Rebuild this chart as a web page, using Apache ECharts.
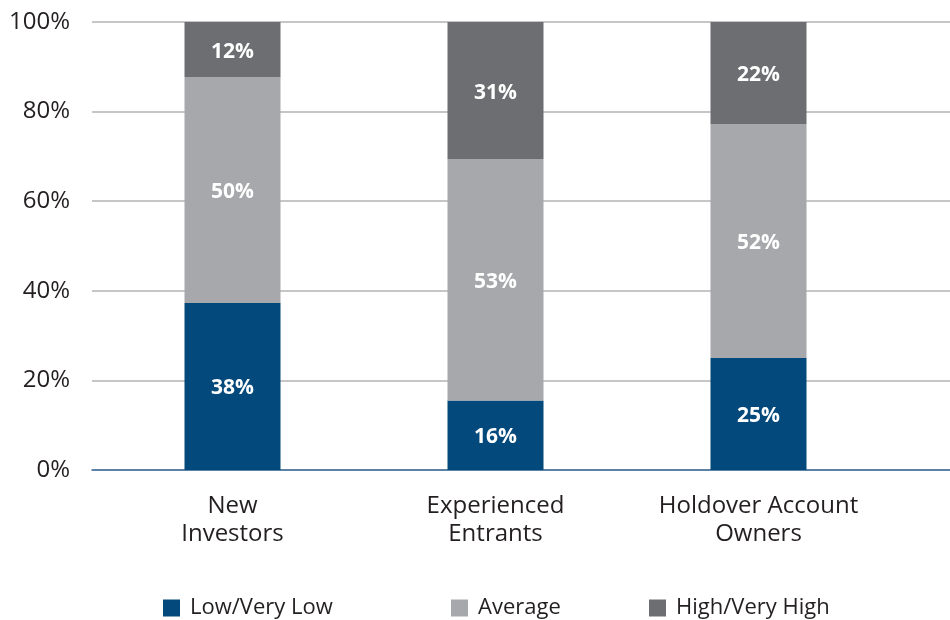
<!DOCTYPE html>
<html>
<head>
<meta charset="utf-8">
<script src="https://cdn.jsdelivr.net/npm/echarts@6/dist/echarts.min.js"></script>
<style>
  html, body { margin: 0; padding: 0; background: #fff; }
  #main { width: 950px; height: 620px; }
</style>
</head>
<body>
<div id="main"></div>
<script>
// categories and values (percent of group)
var categories = ["New\nInvestors", "Experienced\nEntrants", "Holdover Account\nOwners"];
var seriesNames = ["Low/Very Low", "Average", "High/Very High"];
var lowValues = [37.3, 15.5, 25.0];
var avgValues = [50.4, 53.9, 52.2];
var highValues = [12.3, 30.6, 22.8];
// printed labels on the segments
var lowLabels = ["38%", "16%", "25%"];
var avgLabels = ["50%", "53%", "52%"];
var highLabels = ["12%", "31%", "22%"];
var yTicks = [0, 20, 40, 60, 80, 100];

var colors = ["#03497b", "#a7a8ab", "#6d6e71"];
var font = "'Open Sans', 'Noto Sans', sans-serif";

var myChart = echarts.init(document.getElementById("main"));

function makeSeries(i, values, labels) {
  return {
    name: seriesNames[i],
    type: "bar",
    stack: "total",
    xAxisIndex: 1,
    yAxisIndex: 1,
    barWidth: 96,
    itemStyle: { color: colors[i] },
    label: {
      show: true,
      position: "inside",
      offset: [0, 2],
      color: "#fff",
      fontFamily: font,
      fontWeight: "bold",
      fontSize: 21,
      formatter: function (p) { return labels[p.dataIndex]; }
    },
    data: values
  };
}

function legendAt(left, i) {
  return {
    left: left,
    top: 592,
    itemWidth: 17,
    itemHeight: 17,
    itemGap: 11,
    icon: "rect",
    data: [seriesNames[i]],
    textStyle: { fontFamily: font, fontSize: 22, color: "#231f20", padding: [0, 0, 0, 5] }
  };
}

myChart.setOption({
  animation: false,
  legend: [legendAt(158, 0), legendAt(446, 1), legendAt(644, 2)],
  grid: [
    { left: 92, right: 0, top: 22, bottom: 150 },
    { left: 101, right: 60, top: 22, bottom: 150 }
  ],
  xAxis: [
    {
      gridIndex: 0,
      type: "value",
      min: 0,
      max: 1,
      axisLine: { show: true, lineStyle: { color: "#3a6c9a", width: 1.5 } },
      axisTick: { show: false },
      axisLabel: { show: false },
      splitLine: { show: false }
    },
    {
      gridIndex: 1,
      type: "category",
      data: categories,
      axisLine: { show: false },
      axisTick: { show: false },
      axisLabel: {
        margin: 22,
        fontFamily: font,
        fontSize: 24,
        lineHeight: 28,
        color: "#231f20"
      }
    }
  ],
  yAxis: [
    {
      gridIndex: 0,
      type: "value",
      min: 0,
      max: 100,
      interval: 20,
      axisLine: { show: false },
      axisTick: { show: false },
      axisLabel: {
        margin: 22,
        fontFamily: font,
        fontSize: 24,
        color: "#231f20",
        formatter: function (v) { return yTicks.indexOf(v) >= 0 ? v + "%" : ""; }
      },
      splitLine: { lineStyle: { color: "#b3b3b3", width: 1.5 } }
    },
    {
      gridIndex: 1,
      type: "value",
      min: 0,
      max: 100,
      show: false
    }
  ],
  series: [
    makeSeries(0, lowValues, lowLabels),
    makeSeries(1, avgValues, avgLabels),
    makeSeries(2, highValues, highLabels)
  ]
});
</script>
</body>
</html>
